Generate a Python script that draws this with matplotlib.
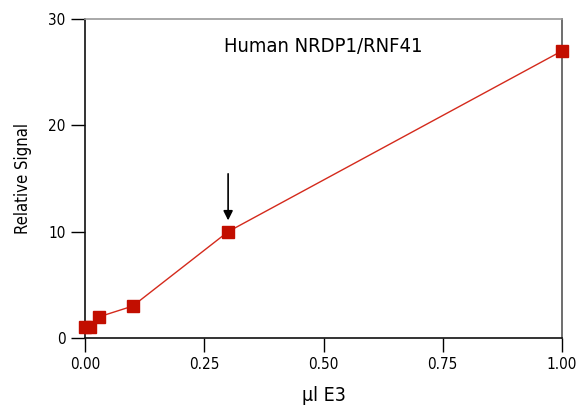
import matplotlib
matplotlib.use("Agg")
import matplotlib.pyplot as plt
from matplotlib import font_manager as fm

# data
dose_ul = [0.0, 0.01, 0.03, 0.1, 0.3, 1.0]
signal = [1, 1, 2, 3, 10, 27]
xticks = [0.0, 0.25, 0.5, 0.75, 1.0]
yticks = [0, 10, 20, 30]

names = {f.name for f in fm.fontManager.ttflist}
family = [n for n in ["Liberation Sans Narrow", "DejaVu Sans"] if n in names]
plt.rcParams['font.family'] = family
plt.rcParams['font.stretch'] = 'condensed'

fig = plt.figure(figsize=(5.76, 4.08), dpi=100)
ax = fig.add_axes([0.1476, 0.1716, 0.8281, 0.7818])

ax.plot(dose_ul, signal, color='#d42a1c', lw=1, marker='s', ms=8,
        mfc='#c20e00', mec='#c20e00', clip_on=False, zorder=3)

ax.set_xlim(0, 1)
ax.set_ylim(0, 30)
ax.set_xticks(xticks)
ax.set_xticklabels([f"{t:.2f}" for t in xticks])
ax.set_yticks(yticks)
ax.tick_params(direction='out', length=10, width=1, labelsize=11, pad=4)

for side in ['left', 'bottom']:
    ax.spines[side].set_color('#111111')
    ax.spines[side].set_linewidth(1.2)
for side in ['top', 'right']:
    ax.spines[side].set_color('#9a9a9a')
    ax.spines[side].set_linewidth(1.2)
ax.spines['right'].set_color('#555555')

ax.set_xlabel('μl E3', fontsize=14, labelpad=10)
ax.set_ylabel('Relative Signal', fontsize=12, labelpad=12)

ax.text(0.50, 27.4, 'Human NRDP1/RNF41', fontsize=14.5, ha='center', va='center')

# arrow marking the 0.3 µl point
ax.annotate('', xy=(0.3, 10.8), xytext=(0.3, 15.7),
            arrowprops=dict(arrowstyle='-|>', color='black', lw=1.2, mutation_scale=14))

fig.savefig('out.png', dpi=100)
